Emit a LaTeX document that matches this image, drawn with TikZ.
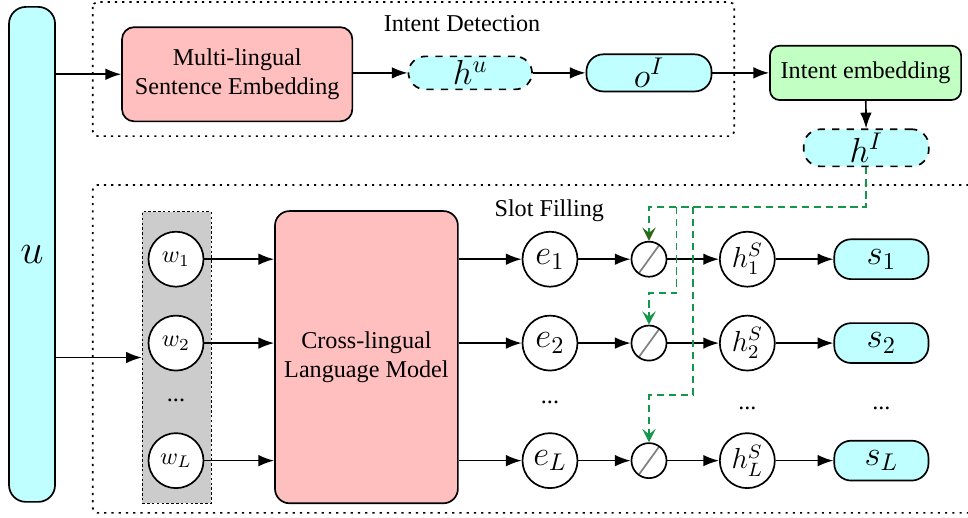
\documentclass[tikz,border=0pt]{standalone}
\usepackage{fontspec}
\setmainfont{Liberation Serif}
\usetikzlibrary{arrows.meta}

\definecolor{feedgreen}{RGB}{20,150,75}
\definecolor{feeddark}{RGB}{45,105,20}
\definecolor{vecfill}{RGB}{191,255,255}
\definecolor{modelfill}{RGB}{255,191,191}
\definecolor{intentfill}{RGB}{194,255,194}
\definecolor{wordfill}{RGB}{204,204,204}

\begin{document}
\begin{tikzpicture}[
    % Style for the word, embedding and hidden circles
    unit/.style={circle, draw, line width=0.7pt, fill=white, minimum size=0.8cm, inner sep=0pt},
    % Style for the small gate circles with a slash
    gate/.style={
        circle, draw, line width=0.7pt, fill=white, minimum size=0.51cm, inner sep=0pt,
        path picture={
            \draw[gray, line width=0.7pt]
            ([shift={(-0.145,-0.2)}]path picture bounding box.center) -- ([shift={(0.145,0.2)}]path picture bounding box.center);
        }
    },
    % Style for the cyan vectors
    pill/.style={draw, line width=0.7pt, fill=vecfill, rounded corners=7pt, minimum width=1.82cm, minimum height=0.54cm, inner sep=0pt},
    hidden/.style={pill, dashed},
    % Style for the model blocks
    block/.style={draw, line width=0.7pt, rounded corners=5pt, align=center, inner sep=0pt},
    % Style for the two dotted frames
    frame/.style={line width=0.7pt, dash pattern=on 0.9pt off 2.1pt, rounded corners=2pt},
    arr/.style={line width=0.7pt, -{Latex[length=6.5pt,width=4.8pt]}},
    feed/.style={line width=0.8pt, feedgreen, dash pattern=on 3pt off 2pt, -{Stealth[length=5.5pt,width=5.5pt,inset=2.2pt]}}
]

    \useasboundingbox (0,0) rectangle (14.08,-7.52);

    % --- 1. Define Coordinates ---
    \coordinate (bus) at (12.60,-3.01);
    \coordinate (tap2) at (9.84,-3.01);
    \coordinate (knee2) at (9.84,-4.26);
    \coordinate (tap3) at (10.08,-3.01);
    \coordinate (knee3) at (10.08,-5.75);


    % --- 2. Draw Frames ---
    \draw[frame] (1.35,-0.03) rectangle (10.68,-1.98);
    \draw[frame] (14.3,-2.69) -- (1.35,-2.69) -- (1.35,-7.46) -- (14.3,-7.46);

    \node at (6.72,-0.35) {Intent Detection};
    \node at (7.99,-3.07) {Slot Filling};


    % --- 3. Draw Nodes ---
    \node[draw, line width=0.7pt, fill=vecfill, rounded corners=7pt, minimum width=0.67cm, minimum height=7.2cm, inner sep=0pt] (u) at (0.466,-3.70) {\LARGE $u$};

    % Intent detection
    \node[block, fill=modelfill, minimum width=3.35cm, minimum height=1.37cm] (mse) at (3.45,-1.08) {Multi-lingual\\Sentence Embedding};
    \node[hidden, minimum width=1.80cm, minimum height=0.48cm] (hu) at (6.84,-1.06) {\Large $h^u$};
    \node[pill] (oI) at (9.44,-1.06) {\Large $o^I$};
    \node[block, fill=intentfill, rounded corners=4pt, minimum width=2.78cm, minimum height=0.79cm] (iemb) at (12.59,-1.06) {Intent embedding};
    \node[hidden] (hI) at (12.60,-2.15) {\Large $h^I$};

    % Slot filling
    \node[draw, fill=wordfill, dash pattern=on 1pt off 1pt, minimum width=1.0cm, minimum height=4.24cm] (wcol) at (2.57,-5.20) {};
    \node[unit] (w1) at (2.56,-3.77) {$w_1$};
    \node[unit] (w2) at (2.56,-4.99) {$w_2$};
    \node at (2.56,-5.82) {...};
    \node[unit] (wL) at (2.56,-6.70) {$w_L$};

    \node[block, fill=modelfill, rounded corners=6pt, minimum width=2.66cm, minimum height=4.25cm] (clm) at (5.33,-5.195) {Cross-lingual\\Language Model};

    \node[unit] (e1) at (8.00,-3.77) {\Large $e_1$};
    \node[unit] (e2) at (8.00,-4.99) {\Large $e_2$};
    \node at (8.00,-5.86) {...};
    \node[unit] (eL) at (8.00,-6.70) {\Large $e_L$};

    \node[gate] (g1) at (9.44,-3.77) {};
    \node[gate] (g2) at (9.44,-4.99) {};
    \node[gate] (gL) at (9.44,-6.70) {};

    \node[unit] (h1) at (10.87,-3.77) {\large $h^S_1$};
    \node[unit] (h2) at (10.87,-4.99) {\large $h^S_2$};
    \node at (10.87,-5.94) {...};
    \node[unit] (hL) at (10.87,-6.70) {\large $h^S_L$};

    \node[pill, minimum width=1.37cm, minimum height=0.58cm] (s1) at (12.82,-3.77) {\Large $s_1$};
    \node[pill, minimum width=1.37cm, minimum height=0.58cm] (s2) at (12.82,-4.99) {\Large $s_2$};
    \node at (12.82,-5.94) {...};
    \node[pill, minimum width=1.37cm, minimum height=0.58cm] (sL) at (12.82,-6.70) {\Large $s_L$};


    % --- 4. Draw Black Arrows ---
    \draw[arr] (u.east |- mse.west) -- (mse.west);
    \draw[arr] (mse.east |- hu.west) -- (hu.west);
    \draw[arr] (hu) -- (oI);
    \draw[arr] (oI) -- (iemb);
    \draw[arr] (iemb) -- (hI);

    \draw[arr] (u.east |- wcol.west) -- (wcol.west);
    \draw[arr] (w1) -- (w1 -| clm.west);
    \draw[arr] (w2) -- (w2 -| clm.west);
    \draw[arr] (wL) -- (wL -| clm.west);

    \draw[arr] (clm.east |- e1) -- (e1);
    \draw[arr] (clm.east |- e2) -- (e2);
    \draw[arr] (clm.east |- eL) -- (eL);

    \draw[arr] (e1) -- (g1);
    \draw[arr] (e2) -- (g2);
    \draw[arr] (eL) -- (gL);
    \draw[arr] (g1) -- (h1);
    \draw[arr] (g2) -- (h2);
    \draw[arr] (gL) -- (hL);
    \draw[arr] (h1) -- (s1);
    \draw[arr] (h2) -- (s2);
    \draw[arr] (hL) -- (sL);


    % --- 5. Draw the Green Intent Feed ---
    \draw[feed, -{Stealth[length=5.5pt,width=5.5pt,inset=2.2pt,color=feeddark]}] (hI.south) -- (bus) -| (g1.north);
    \draw[feed] (tap2) -- (knee2) -| (g2.north);
    \draw[feed] (tap3) -- (knee3) -| (gL.north);

\end{tikzpicture}
\end{document}
